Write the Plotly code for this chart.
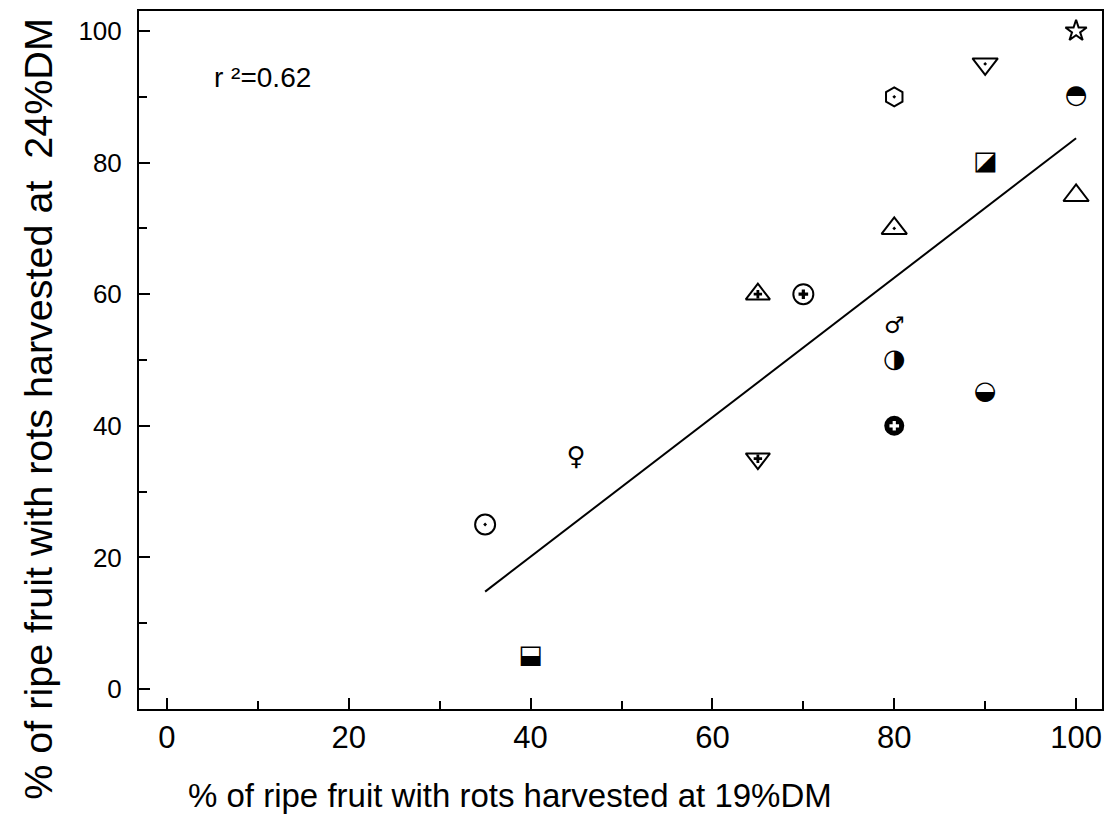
import plotly.graph_objects as go

# ---------------- data ----------------
x_19dm = [35, 40, 45, 65, 65, 70, 80, 80, 80, 80, 80, 90, 90, 90, 100, 100, 100]
y_24dm = [25, 5, 35, 60, 35, 60, 90, 70, 55, 50, 40, 95, 80, 45, 100, 90, 75]
fit_x = [35, 100]
fit_y = [14.8, 83.7]
r2_text = "r \u00b2=0.62"
x_ticks = [0, 20, 40, 60, 80, 100]
y_ticks = [0, 20, 40, 60, 80, 100]
x_title = "% of ripe fruit with rots harvested at 19%DM"
y_title = "% of ripe fruit with rots harvested at  24%DM"

# ---------------- styles ----------------
# marker kind for each point (same order as data)
kinds = ["circle-open-dot", "txt:\u2b13", "txt:\u2640", "tri-cross", "tridown-cross",
         "circle-cross", "hexagon-open-dot", "triangle-up-open-dot", "txt:\u2642",
         "txt:\u25d1", "black-cross", "triangle-down-open-dot", "txt:\u25ea",
         "txt:\u25d2", "star-open", "txt:\u25d3", "triangle-up-open"]

fig = go.Figure()
BLK = "black"

def add_marker(xs, ys, symbol, size, color=BLK, lw=2, fill=None):
    fig.add_trace(go.Scatter(
        x=xs, y=ys, mode="markers", showlegend=False, hoverinfo="skip",
        marker=dict(symbol=symbol, size=size, color=fill if fill else color,
                    line=dict(color=color, width=lw))))

def add_text(xs, ys, glyph, size):
    fig.add_trace(go.Scatter(
        x=xs, y=ys, mode="text", text=[glyph] * len(xs), showlegend=False,
        hoverinfo="skip", textposition="middle center",
        textfont=dict(family="DejaVu Sans", size=size, color=BLK)))

# regression line
fig.add_trace(go.Scatter(x=fit_x, y=fit_y, mode="lines", showlegend=False,
                         line=dict(color=BLK, width=2), hoverinfo="skip"))

for xi, yi, k in zip(x_19dm, y_24dm, kinds):
    if k.startswith("txt:"):
        g = k[4:]
        sz = {"\u2640": 26, "\u2642": 23}.get(g, 26)
        add_text([xi], [yi], g, sz)
    elif k == "tri-cross":
        add_marker([xi], [yi], "triangle-up-open", 21)
        add_marker([xi], [yi], "cross", 7, lw=0)
    elif k == "tridown-cross":
        add_marker([xi], [yi], "triangle-down-open", 21)
        add_marker([xi], [yi], "cross", 7, lw=0)
    elif k == "circle-cross":
        add_marker([xi], [yi], "circle-open", 20)
        add_marker([xi], [yi], "cross", 8, lw=0)
    elif k == "black-cross":
        add_marker([xi], [yi], "circle", 20, lw=0)
        add_marker([xi], [yi], "cross", 8, fill="white", color="white", lw=0)
    elif k == "star-open":
        add_marker([xi], [yi], k, 16)
    elif k.startswith("hexagon"):
        add_marker([xi], [yi], k, 19)
    elif k.startswith("triangle"):
        add_marker([xi], [yi], k, 22)
    else:
        add_marker([xi], [yi], k, 20)

fig.add_annotation(x=5.0, y=93.0, xref="x", yref="y", text=r2_text, showarrow=False,
                   xanchor="left", yanchor="middle",
                   font=dict(family="Liberation Sans", size=28, color=BLK))

fig.add_annotation(x=0.385, y=-0.095, xref="paper", yref="paper", text=x_title,
                   showarrow=False, xanchor="center", yanchor="top",
                   font=dict(family="Liberation Sans Narrow, Liberation Sans", size=33, color=BLK))
fig.add_annotation(x=-0.105, y=0.43, xref="paper", yref="paper", text=y_title,
                   showarrow=False, textangle=-90, xanchor="center", yanchor="middle",
                   font=dict(family="Liberation Sans", size=39.5, color=BLK))

axis_common = dict(showline=True, linecolor=BLK, linewidth=2, mirror=True,
                   ticks="inside", tickcolor=BLK, tickwidth=2, ticklen=11,
                   showgrid=False, zeroline=False,
                   minor=dict(ticks="inside", ticklen=8, tickwidth=1.5,
                              tickcolor=BLK, dtick=10, showgrid=False))

fig.update_xaxes(range=[-3.07, 102.85], tickvals=x_ticks,
                 tickfont=dict(family="Liberation Sans Narrow, Liberation Sans", size=31, color=BLK),
                 **axis_common)
fig.update_yaxes(range=[-3.04, 103.04], tickvals=y_ticks, ticklabelstandoff=10,
                 tickfont=dict(family="Liberation Sans", size=26, color=BLK),
                 **axis_common)

fig.update_layout(width=1106, height=820, plot_bgcolor="white", paper_bgcolor="white",
                  margin=dict(l=139, r=2, t=11, b=111), showlegend=False)

fig.write_html("out.html", config={"displayModeBar": False},
               post_script="document.body.style.margin='0';document.body.style.overflow='hidden';")
